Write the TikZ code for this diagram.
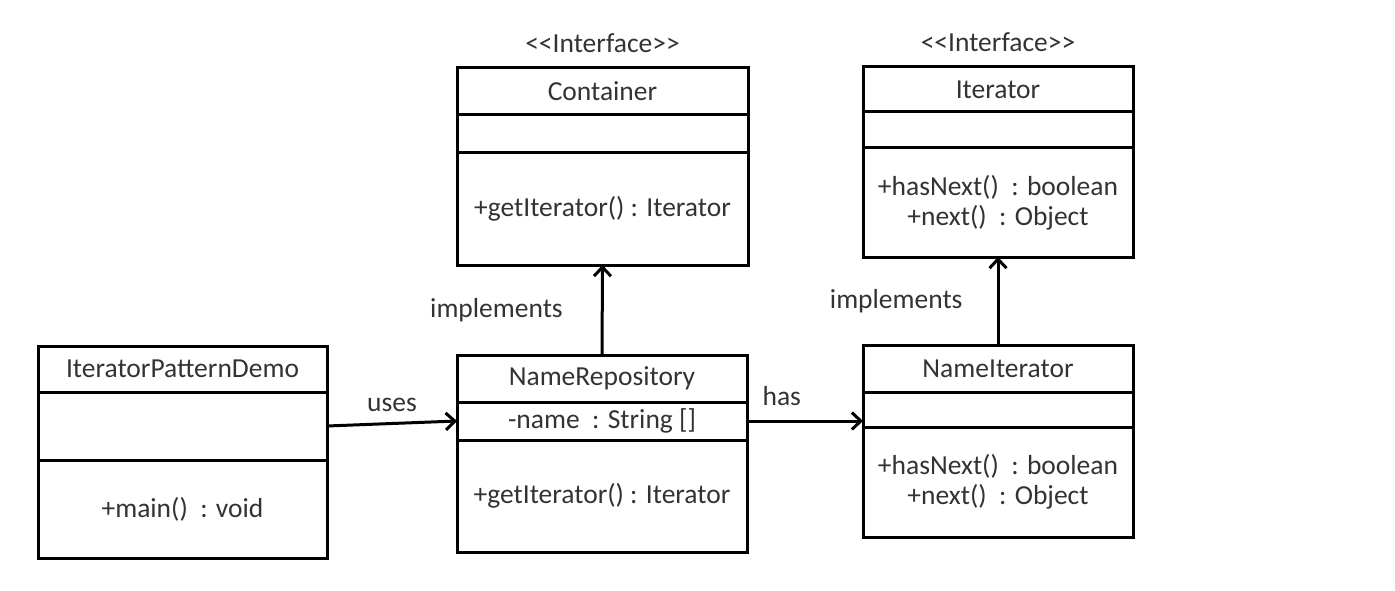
\documentclass[tikz,border=0pt]{standalone}
\usepackage{fontspec}
\newfontfamily\umlfont{Carlito}
\usetikzlibrary{positioning,arrows.meta}

\begin{document}
\begin{tikzpicture}[x=1pt,y=-1pt,
  compart/.style={draw,line width=3pt,outer sep=0pt,inner sep=0pt,align=center,text=black!80,
    font=\umlfont\fontsize{27.5}{30}\selectfont},
  link/.style={line width=3pt,-{Straight Barb[length=9pt,width=17pt,line width=3pt]}},
  lbl/.style={font=\umlfont\fontsize{27.5}{30}\selectfont,text=black!80,inner sep=2pt}]

  \useasboundingbox[fill=white] (0,0) rectangle (1395,591);

  % ITERATOR PATTERN DEMO
  \node[compart,minimum width=289pt,minimum height=46pt,anchor=north] (IterDemo) at (182.5,346) {IteratorPatternDemo};
  \node[compart,minimum width=289pt,minimum height=68pt,below=0pt of IterDemo] (IterDemoAttr) {};
  \node[compart,minimum width=289pt,minimum height=98pt,below=0pt of IterDemoAttr] (IterDemoOps) {+main()\ \ : void};

  % CONTAINER
  \node[compart,minimum width=291pt,minimum height=47pt,anchor=north] (Cont) at (602.5,68) {Container};
  \node[compart,minimum width=291pt,minimum height=38pt,below=0pt of Cont] (ContAttr) {};
  \node[compart,minimum width=291pt,minimum height=112pt,below=0pt of ContAttr] (ContOps) {+getIterator() : Iterator};
  \node[lbl,above=13pt of Cont] (ContStereo) {<\kern0pt<Interface>\kern0pt>};

  % NAME REPOSITORY
  \node[compart,minimum width=290pt,minimum height=47pt,anchor=north] (NameRepo) at (602,355) {NameRepository};
  \node[compart,minimum width=290pt,minimum height=38pt,below=0pt of NameRepo] (NameRepoAttr) {-name\ \ : String []};
  \node[compart,minimum width=290pt,minimum height=112pt,below=0pt of NameRepoAttr] (NameRepoOps) {+getIterator() : Iterator};

  % ITERATOR
  \node[compart,minimum width=270pt,minimum height=45pt,anchor=north] (Iter) at (998,67) {Iterator};
  \node[compart,minimum width=270pt,minimum height=36pt,below=0pt of Iter] (IterAttr) {};
  \node[compart,minimum width=270pt,minimum height=109pt,below=0pt of IterAttr] (IterOps) {+hasNext()\ \ : boolean\\+next()\ \ : Object};
  \node[lbl,above=13pt of Iter] (IterStereo) {<\kern0pt<Interface>\kern0pt>};

  % NAME ITERATOR
  \node[compart,minimum width=270pt,minimum height=47pt,anchor=north] (NameIter) at (998,345) {NameIterator};
  \node[compart,minimum width=270pt,minimum height=35pt,below=0pt of NameIter] (NameIterAttr) {};
  \node[compart,minimum width=270pt,minimum height=110pt,below=0pt of NameIterAttr] (NameIterOps) {+hasNext()\ \ : boolean\\+next()\ \ : Object};

  % relations
  \draw[link] (IterDemoAttr.east) -- (NameRepoAttr.west) node[lbl,midway,above=8pt] {uses};
  \draw[link] (NameRepoAttr.east) -- (NameRepoAttr.east -| NameIterAttr.west) node[lbl,pos=.3,above=12pt] {has};
  \draw[link] (NameRepo.north) -- (ContOps.south) node[lbl,midway,left=36pt] {implements};
  \draw[link] (NameIter.north) -- (IterOps.south) node[lbl,midway,left=32pt] {implements};
\end{tikzpicture}
\end{document}
